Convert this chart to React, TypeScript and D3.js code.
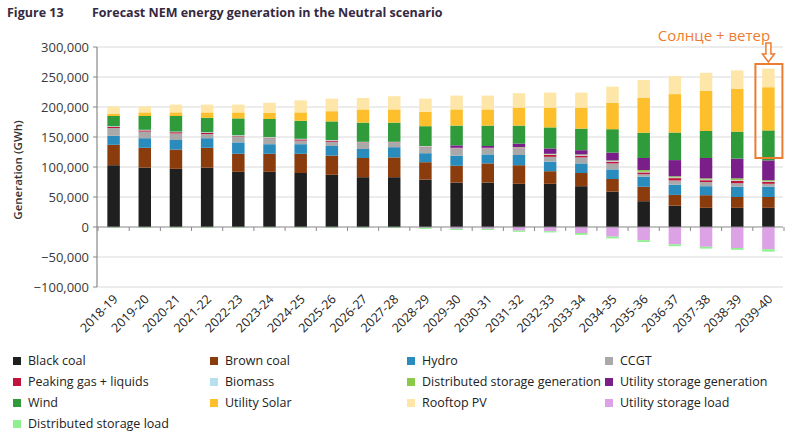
import React from "react";
import * as d3 from "d3";

const categories = ["2018-19","2019-20","2020-21","2021-22","2022-23","2023-24","2024-25","2025-26","2026-27","2027-28","2028-29","2029-30","2030-31","2031-32","2032-33","2033-34","2034-35","2035-36","2036-37","2037-38","2038-39","2039-40"];

// values in thousand GWh
const blackCoal = [103, 99, 97, 99, 92, 92, 90, 87, 83, 83, 79, 74, 74, 72, 72, 68, 59, 43, 35.5, 32, 32, 32];
const brownCoal = [34, 33, 32, 33, 30, 30, 32, 32, 32, 33, 29, 28, 32, 31, 21, 22, 21, 24, 18, 21, 18, 18];
const hydro = [15, 16, 16, 16, 19, 16, 16, 16, 15, 17, 15, 17, 15, 17, 16, 16, 16, 17, 17, 15, 17, 17];
const ccgt = [13, 11, 11, 7, 10, 10, 6, 7, 10, 7, 10, 11, 9, 10, 8, 10, 10, 4, 7, 7, 6, 5];
const peaking = [2, 2, 2, 2, 1, 1, 2, 2, 1, 1, 1, 1, 1, 1, 3, 3, 3, 3, 4, 3, 4, 3];
const biomass = [1, 1, 1, 1, 1, 1, 1, 1, 1, 1, 1, 1, 1, 1, 1, 1, 1, 1, 1, 1, 1, 1];
const distStorageGen = [0, 0, 0, 0, 0, 0, 0, 0, 0, 0, 0, 0, 0, 1, 1, 1, 1, 3, 2, 2, 3, 2];
const utilityStorageGen = [0, 0, 0, 0, 0, 0, 0, 0, 0, 0, 0, 4, 3, 6, 9, 7, 13, 20, 27, 34, 33, 33];
const wind = [17, 23, 26, 24, 28, 30, 30, 31, 32, 32, 33, 33, 34, 30, 35, 36, 39, 42, 46, 45, 45, 50];
const utilitySolar = [4, 6, 6, 9, 10, 10, 14, 17, 22, 22, 24, 27, 27, 30, 33, 35, 44, 58, 64, 67, 71, 72];
const rooftopPV = [12, 10, 13, 13, 13, 17, 20, 21, 19, 22, 22, 23, 23, 24, 25, 25, 27, 30, 30, 30, 31, 31];
const utilityStorageLoad = [0, 0, 0, 0, 0, 0, 0, 0, 0, 0, -1, -3, -3, -6, -7, -10, -16, -22, -29, -33, -35, -37];
const distStorageLoad = [-1, -1, -1, -1, -1, -1, -1, -1.5, -1.5, -1.5, -2, -2, -2, -2, -2, -3, -3, -3, -3, -3, -3, -4];

const yTicks = [-100000, -50000, 0, 50000, 100000, 150000, 200000, 250000, 300000];

const series = [
  { name: "Black coal", values: blackCoal, color: "#1f1f1f" },
  { name: "Brown coal", values: brownCoal, color: "#8a3c0c" },
  { name: "Hydro", values: hydro, color: "#2a8bbd" },
  { name: "CCGT", values: ccgt, color: "#a9a9a9" },
  { name: "Peaking gas + liquids", values: peaking, color: "#c0143c" },
  { name: "Biomass", values: biomass, color: "#b6e0ee" },
  { name: "Distributed storage generation", values: distStorageGen, color: "#8cc94a" },
  { name: "Utility storage generation", values: utilityStorageGen, color: "#7a1f8a" },
  { name: "Wind", values: wind, color: "#2f9b3a" },
  { name: "Utility Solar", values: utilitySolar, color: "#fdc02c" },
  { name: "Rooftop PV", values: rooftopPV, color: "#fde6a8" },
  { name: "Utility storage load", values: utilityStorageLoad, color: "#dda2e6" },
  { name: "Distributed storage load", values: distStorageLoad, color: "#8ef08e" },
];

const FONT = "'Open Sans', 'DejaVu Sans', sans-serif";

export default function App() {
  const W = 800, H = 436;
  const x0 = 97, x1 = 783;
  const x = d3.scaleBand<string>().domain(categories).range([x0 + 1, x1 + 1]).paddingInner(0.6).paddingOuter(0.3);
  const y = d3.scaleLinear().domain([-100000, 300000]).range([287, 47]);

  const table = categories.map((c, i) => {
    const row: any = { cat: c };
    series.forEach(s => { row[s.name] = s.values[i] * 1000; });
    return row;
  });
  const stack = d3.stack<any>().keys(series.map(s => s.name)).offset(d3.stackOffsetDiverging);
  const layers = stack(table);

  const fmt = d3.format(",");
  const step = x.step();

  const last = categories[categories.length - 1];
  const bx = x(last)! + x.bandwidth() / 2;

  return (
    <svg width={W} height={H} style={{ display: "block", position: "absolute", left: 0, top: 0, background: "#fff" }}>
      <rect x={0} y={0} width={W} height={H} fill="#fff" />
      <text x={7} y={17} fontFamily={FONT} fontWeight={700} fontSize={12.5} fill="#35293f">Figure 13</text>
      <text x={92} y={17} fontFamily={FONT} fontWeight={700} fontSize={12.5} fill="#35293f">Forecast NEM energy generation in the Neutral scenario</text>

      {yTicks.map(t => (
        <g key={t}>
          {t !== 0 && <line x1={x0} x2={x1} y1={y(t)} y2={y(t)} stroke="#dadada" strokeWidth={1} />}
          <line x1={x0 - 4} x2={x0} y1={y(t)} y2={y(t)} stroke="#888" />
          <text x={x0 - 8} y={y(t)} dy="0.35em" textAnchor="end" fontFamily={FONT} fontSize={13} fill="#3a3a3a">{fmt(t)}</text>
        </g>
      ))}

      {layers.map((layer, li) => (
        <g key={layer.key} fill={series[li].color}>
          {layer.map((d, i) => {
            const top = y(Math.max(d[0], d[1]));
            const bot = y(Math.min(d[0], d[1]));
            if (bot - top <= 0) return null;
            return <rect key={i} x={x(categories[i])} y={top} width={x.bandwidth()} height={bot - top} />;
          })}
        </g>
      ))}

      <line x1={x0} x2={x0} y1={47} y2={287} stroke="#888" strokeWidth={1.2} />
      <line x1={x0} x2={x1} y1={y(0)} y2={y(0)} stroke="#888" strokeWidth={1.2} />
      {d3.range(categories.length + 1).map(i => {
        const xx = x0 + 1 + i * step;
        return <line key={i} x1={xx} x2={xx} y1={y(0)} y2={y(0) + 4} stroke="#888" />;
      })}

      {categories.map(c => {
        const cx = x(c)! + x.bandwidth() / 2;
        return (
          <text key={c} transform={`translate(${cx + 5},${300}) rotate(-45)`} textAnchor="end" fontFamily={FONT} fontSize={12.5} fill="#222">{c}</text>
        );
      })}

      <text transform={`translate(22,170) rotate(-90)`} textAnchor="middle" fontFamily={FONT} fontWeight={600} fontSize={11.5} fill="#333">Generation (GWh)</text>

      {series.map((s, i) => {
        const col = i % 4, row = Math.floor(i / 4);
        const lx = [13, 210, 407, 605][col];
        const ly = 361 + row * 21;
        return (
          <g key={s.name}>
            <rect x={lx} y={ly - 4} width={8} height={8} fill={s.color} />
            <text x={lx + 15} y={ly} dy="0.35em" fontFamily={FONT} fontSize={12.5} fill="#222">{s.name}</text>
          </g>
        );
      })}

      <rect x={bx - 13} y={64} width={27} height={94} fill="none" stroke="#ec7c30" strokeWidth={2} />
      <path d={`M${bx - 2.5},43 L${bx + 2.5},43 L${bx + 2.5},54 L${bx + 6},54 L${bx},62 L${bx - 6},54 L${bx - 2.5},54 Z`} fill="#fff" stroke="#ec7c30" strokeWidth={1.5} />
      <text x={714} y={41} textAnchor="middle" fontFamily={FONT} fontSize={15} fill="#ec7c30">Солнце + ветер</text>
    </svg>
  );
}
